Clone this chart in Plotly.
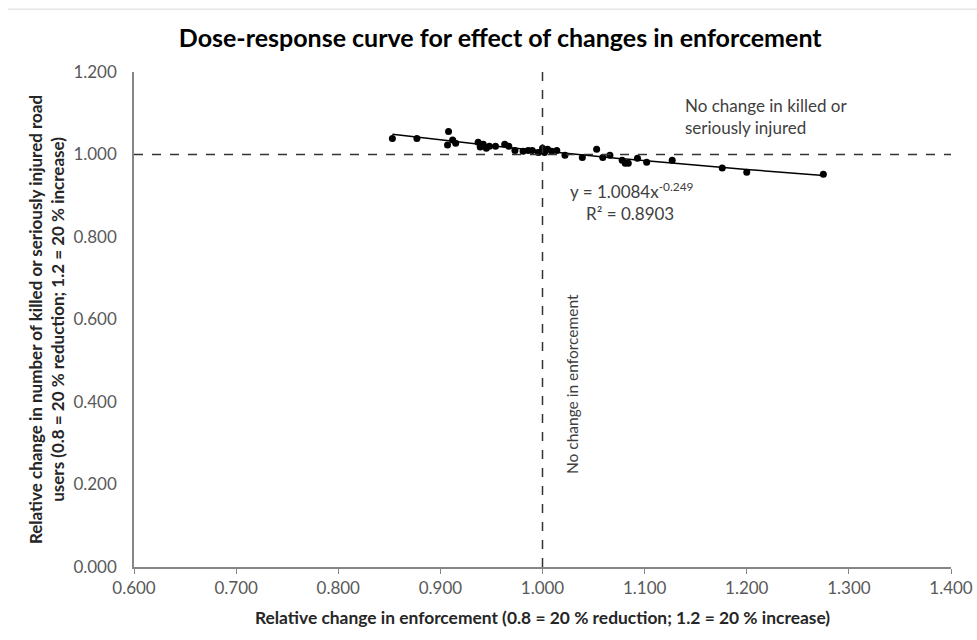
import numpy as np
import plotly.graph_objects as go

# ---- data ----
enforcement = [0.853, 0.877, 0.908, 0.907, 0.912, 0.915, 0.937, 0.939, 0.942, 0.945,
               0.948, 0.954, 0.963, 0.967, 0.973, 0.981, 0.986, 0.990, 0.996, 1.000,
               1.002, 1.005, 1.009, 1.014, 1.022, 1.039, 1.053, 1.059, 1.066, 1.078,
               1.081, 1.084, 1.093, 1.102, 1.127, 1.176, 1.200, 1.275]
ksi = [1.039, 1.039, 1.056, 1.023, 1.035, 1.027, 1.030, 1.018, 1.025, 1.015,
       1.020, 1.020, 1.025, 1.020, 1.010, 1.008, 1.010, 1.010, 1.005, 1.015,
       1.005, 1.013, 1.008, 1.010, 0.998, 0.993, 1.013, 0.993, 0.998, 0.986,
       0.979, 0.979, 0.991, 0.981, 0.986, 0.967, 0.957, 0.952]

fit_a = 1.0084
fit_b = -0.249
fit_r2 = 0.8903
ref_x = 1.0
ref_y = 1.0

x_range = [0.6, 1.4]
y_range = [0.0, 1.2]

title = "Dose-response curve for effect of changes in enforcement"
x_title = "Relative change in enforcement (0.8 = 20 % reduction; 1.2 = 20 % increase)"
y_title_1 = "Relative change in number of killed or seriously injured road"
y_title_2 = "users (0.8 = 20 % reduction; 1.2 = 20 % increase)"
h_label = "No change in killed or<br>seriously injured"
v_label = "No change in enforcement"

FONT = "Lato"
TXT = "#404040"

# power trendline from the reported coefficients
xs = np.linspace(min(enforcement), max(enforcement), 100)
ys = fit_a * xs ** fit_b

fig = go.Figure()
fig.add_trace(go.Scatter(x=xs, y=ys, mode="lines",
                         line=dict(color="black", width=1.5), hoverinfo="skip"))
fig.add_trace(go.Scatter(x=enforcement, y=ksi, mode="markers",
                         marker=dict(color="black", size=7)))

# dashed reference lines
fig.add_shape(type="line", x0=x_range[0], x1=x_range[1], y0=ref_y, y1=ref_y,
              line=dict(color="#333333", width=1.5, dash="dash"))
fig.add_shape(type="line", x0=ref_x, x1=ref_x, y0=y_range[0], y1=y_range[1],
              line=dict(color="#333333", width=1.5, dash="dash"))

# faint chart border at top
fig.add_shape(type="line", xref="paper", yref="paper", x0=-0.154, x1=1.04,
              y0=1.127, y1=1.127, line=dict(color="#d9d9d9", width=1))

fig.add_annotation(x=1.138, y=1.093, text=h_label, showarrow=False,
                   xanchor="left", align="left",
                   font=dict(family=FONT, size=17, color=TXT))
fig.add_annotation(x=1.0287, y=0.443, text=v_label, showarrow=False,
                   textangle=-90, font=dict(family=FONT, size=15.5, color=TXT))
fig.add_annotation(x=1.0246, y=0.913,
                   text=f"y = {fit_a}x<sup>{fit_b}</sup>", showarrow=False,
                   xanchor="left", font=dict(family=FONT, size=17, color=TXT))
fig.add_annotation(x=1.041, y=0.858,
                   text=f"R² = {fit_r2}", showarrow=False,
                   xanchor="left", font=dict(family=FONT, size=17, color=TXT))

# y-axis title as rotated annotation
fig.add_annotation(xref="paper", yref="paper", x=-0.107, y=0.5,
                   xanchor="center", yanchor="middle",
                   text=f"<b>{y_title_1}<br>{y_title_2}</b>", showarrow=False,
                   textangle=-90, font=dict(family=FONT, size=17, color="#262626"))

fig.update_layout(
    width=977, height=640,
    margin=dict(l=134, r=26, t=72, b=73),
    paper_bgcolor="white", plot_bgcolor="white",
    showlegend=False,
    title=dict(text=f"<b>{title}</b>", x=0.512, xanchor="center", y=0.9406,
               yanchor="middle", font=dict(family=FONT, size=25, color="black")),
    font=dict(family=FONT),
)
fig.update_xaxes(range=x_range, dtick=0.1, tick0=0.6, tickformat=".3f",
                 automargin=False,
                 showgrid=False, zeroline=False, showline=True,
                 linecolor="#868686", linewidth=1.5, ticks="outside",
                 ticklen=5, tickcolor="#868686", ticklabeloverflow="allow",
                 tickfont=dict(family=FONT, size=17, color="#595959"),
                 title=dict(text=f"<b>{x_title}</b>", standoff=15,
                            font=dict(family=FONT, size=17.4, color="#262626")))
fig.update_yaxes(range=y_range, dtick=0.2, tick0=0, tickformat=".3f",
                 automargin=False,
                 showgrid=False, zeroline=False, showline=True,
                 linecolor="#868686", linewidth=1.5, ticks="outside",
                 ticklen=12, tickcolor="rgba(0,0,0,0)",
                 tickfont=dict(family=FONT, size=17, color="#595959"))

fig.write_html("out.html", config={"displayModeBar": False},
               post_script="document.body.style.margin='0';document.body.style.overflow='hidden';")
